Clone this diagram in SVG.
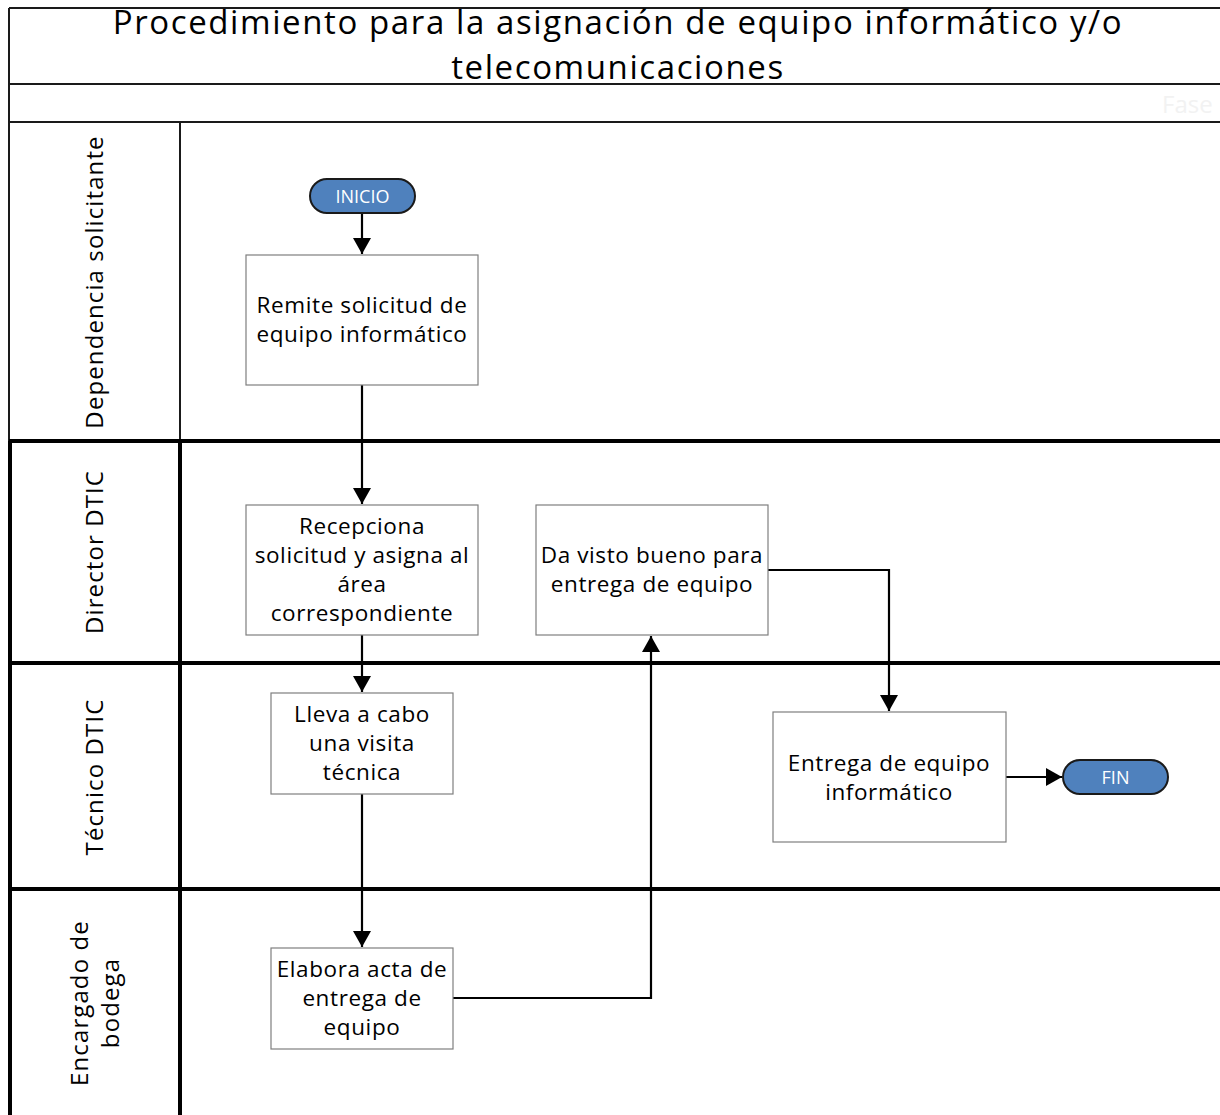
<svg xmlns="http://www.w3.org/2000/svg" width="1220" height="1115" viewBox="0 0 1220 1115">
<style>
text{font-family:"Open Sans","Noto Sans","DejaVu Sans",sans-serif;fill:#000;}
.box{fill:#fff;stroke:#7f7f7f;stroke-width:1.2;}
.bt{font-size:22.5px;letter-spacing:0.6px;text-anchor:middle;}
.term{fill:#4f81bd;stroke:#1a1a1a;stroke-width:2;}
.tt{font-size:18px;fill:#fff;text-anchor:middle;}
.lane{font-size:24px;letter-spacing:1.1px;text-anchor:middle;}
.thin{stroke:#1a1a1a;stroke-width:2;fill:none;}
.thick{stroke:#000;stroke-width:4;fill:none;}
.conn{stroke:#000;stroke-width:2.2;fill:none;marker-end:url(#ah);}
</style>
<defs>
<marker id="ah" viewBox="0 0 16 18" refX="16" refY="9" markerWidth="16" markerHeight="18" markerUnits="userSpaceOnUse" orient="auto">
<path d="M0,0 L16,9 L0,18 z" fill="#000"/>
</marker>
</defs>
<rect width="1220" height="1115" fill="#fff"/>
<g id="frame">
<line class="thin" x1="9" y1="8" x2="1220" y2="8"/>
<line class="thin" x1="9" y1="84" x2="1220" y2="84"/>
<line class="thin" x1="9" y1="122" x2="1220" y2="122"/>
<line class="thin" x1="9" y1="8" x2="9" y2="441"/>
<line class="thin" x1="180" y1="122" x2="180" y2="441"/>
<line class="thick" x1="9" y1="441" x2="1220" y2="441"/>
<line class="thick" x1="9" y1="663" x2="1220" y2="663"/>
<line class="thick" x1="9" y1="889" x2="1220" y2="889"/>
<line class="thick" x1="10" y1="441" x2="10" y2="1115"/>
<line class="thick" x1="180" y1="441" x2="180" y2="1115"/>
<text x="618" y="34" font-size="33" letter-spacing="1.6" text-anchor="middle">Procedimiento para la asignación de equipo informático y/o</text>
<text x="618" y="79" font-size="33" letter-spacing="1.6" text-anchor="middle">telecomunicaciones</text>
<text x="1162" y="113" font-size="24" style="fill:#f2f2f2">Fase</text>
</g>
<g id="lane-labels">
<text class="lane" transform="translate(103,282) rotate(-90)">Dependencia solicitante</text>
<text class="lane" transform="translate(103,552) rotate(-90)">Director DTIC</text>
<text class="lane" transform="translate(103,777) rotate(-90)">Técnico DTIC</text>
<text class="lane" transform="translate(88,1003) rotate(-90)">Encargado de</text>
<text class="lane" transform="translate(119,1003) rotate(-90)">bodega</text>
</g>
<g id="connectors">
<line class="conn" x1="362" y1="213" x2="362" y2="254"/>
<line class="conn" x1="362" y1="385" x2="362" y2="504"/>
<line class="conn" x1="362" y1="635" x2="362" y2="692"/>
<line class="conn" x1="362" y1="794" x2="362" y2="947"/>
<polyline class="conn" points="453,998 651,998 651,636"/>
<polyline class="conn" points="768,570 889,570 889,711"/>
<line class="conn" x1="1006" y1="777" x2="1062" y2="777"/>
</g>
<g id="inicio">
<rect class="term" x="310" y="179" width="105" height="34" rx="17"/>
<text class="tt" x="362.5" y="202.5">INICIO</text>
</g>
<g id="remite">
<rect class="box" x="246" y="255" width="232" height="130"/>
<text class="bt" x="362" y="313">Remite solicitud de</text>
<text class="bt" x="362" y="342">equipo informático</text>
</g>
<g id="recepciona">
<rect class="box" x="246" y="505" width="232" height="130"/>
<text class="bt" x="362" y="534">Recepciona</text>
<text class="bt" x="362" y="563">solicitud y asigna al</text>
<text class="bt" x="362" y="592">área</text>
<text class="bt" x="362" y="621">correspondiente</text>
</g>
<g id="visto-bueno">
<rect class="box" x="536" y="505" width="232" height="130"/>
<text class="bt" x="652" y="563">Da visto bueno para</text>
<text class="bt" x="652" y="592">entrega de equipo</text>
</g>
<g id="visita">
<rect class="box" x="271" y="693" width="182" height="101"/>
<text class="bt" x="362" y="722">Lleva a cabo</text>
<text class="bt" x="362" y="751">una visita</text>
<text class="bt" x="362" y="780">técnica</text>
</g>
<g id="entrega">
<rect class="box" x="773" y="712" width="233" height="130"/>
<text class="bt" x="889" y="771">Entrega de equipo</text>
<text class="bt" x="889" y="800">informático</text>
</g>
<g id="acta">
<rect class="box" x="271" y="948" width="182" height="101"/>
<text class="bt" x="362" y="977">Elabora acta de</text>
<text class="bt" x="362" y="1006">entrega de</text>
<text class="bt" x="362" y="1035">equipo</text>
</g>
<g id="fin">
<rect class="term" x="1063" y="760" width="105" height="34" rx="17"/>
<text class="tt" x="1115.5" y="783.5">FIN</text>
</g>
</svg>
